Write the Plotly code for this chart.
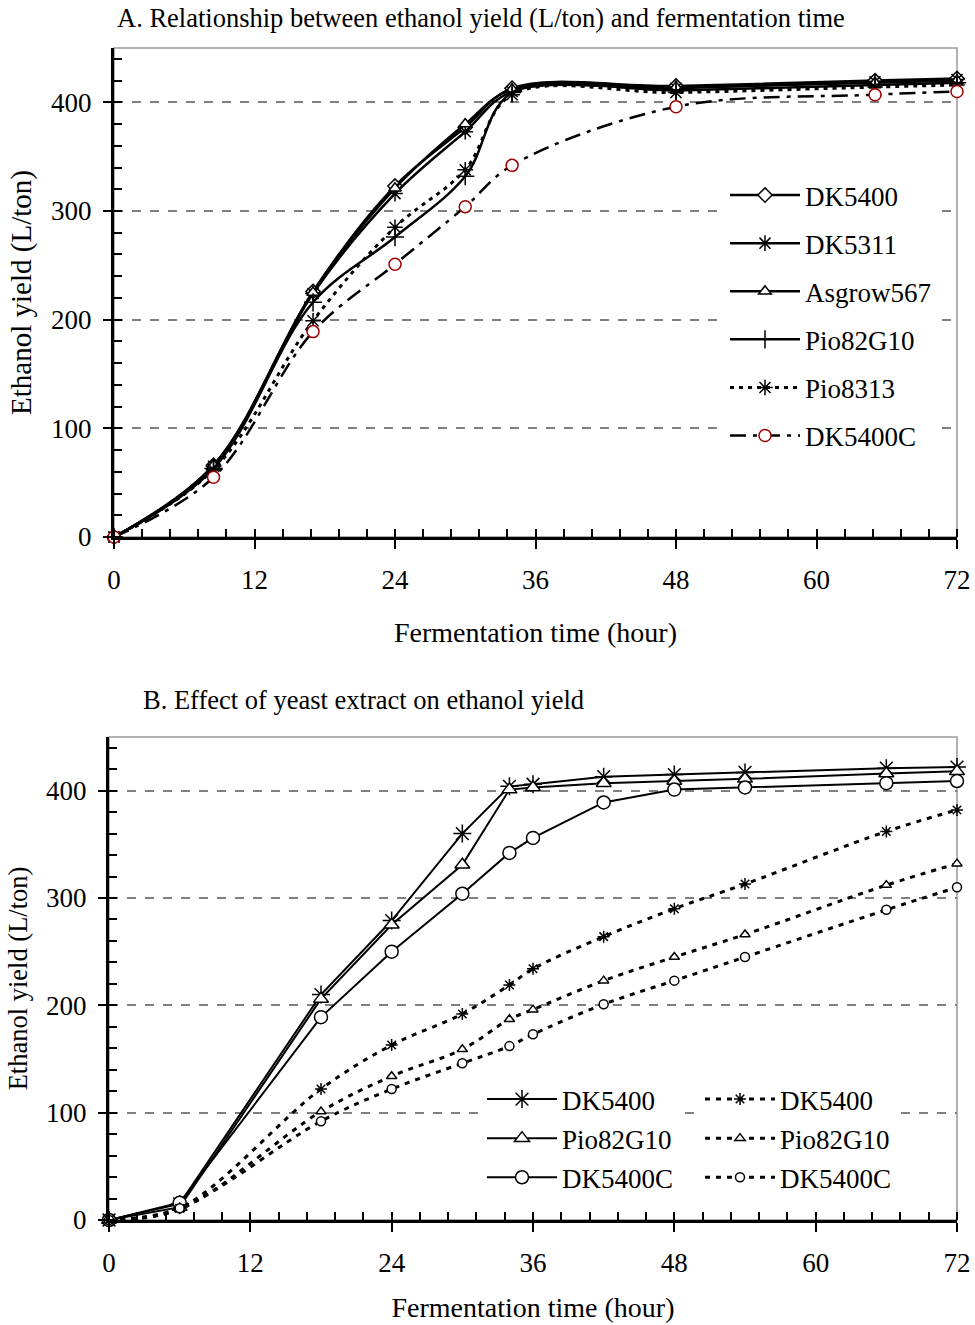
import plotly.graph_objects as go

# ---------------- data ----------------
hours_a = [0, 8.5, 17, 24, 30, 34, 48, 65, 72]
dk5400_a = [0, 66, 226, 323, 377, 413, 415, 420, 422]
dk5311_a = [0, 65, 224, 316, 373, 410, 413, 419, 421]
asgrow567_a = [0, 66, 225, 321, 380, 412, 414, 418, 420]
pio82g10_a = [0, 63, 216, 276, 332, 409, 411, 416, 418]
pio8313_a = [0, 62, 199, 285, 338, 407, 409, 414, 416]
dk5400c_a = [0, 55, 189, 251, 304, 342, 396, 407, 410]

hours_b = [0, 6, 18, 24, 30, 34, 36, 42, 48, 54, 66, 72]
dk5400_ye = [0, 15, 210, 279, 360, 404, 406, 413, 415, 417, 421, 422]
pio82g10_ye = [0, 12, 206, 275, 331, 401, 403, 407, 409, 411, 416, 418]
dk5400c_ye = [0, 16, 189, 250, 304, 342, 356, 389, 401, 403, 407, 409]
dk5400_no = [0, 11, 122, 163, 192, 219, 234, 264, 290, 313, 362, 382]
pio82g10_no = [0, 10, 101, 134, 159, 187, 196, 223, 245, 266, 312, 332]
dk5400c_no = [0, 11, 92, 122, 146, 162, 173, 201, 223, 245, 289, 310]

title_a = "A. Relationship between ethanol yield (L/ton) and fermentation time"
title_b = "B. Effect of yeast extract on ethanol yield"
x_title = "Fermentation time (hour)"
y_title = "Ethanol yield (L/ton)"

W, H = 975, 1325
FONT = "Liberation Serif, Times New Roman, serif"

fig = go.Figure()


def add(x, y, name, symbol, xa, ya, legend, group, dash="solid", shape="linear",
        mcolor="black", msize=11, lw=2.5):
    fig.add_trace(go.Scatter(
        x=x, y=y, name=name, mode="lines+markers", xaxis=xa, yaxis=ya,
        legend=legend, legendgroup=group, cliponaxis=False,
        line=dict(color="black", width=lw, dash=dash, shape=shape),
        marker=dict(symbol=symbol, size=msize, color="white",
                    line=dict(color=mcolor, width=1.5)),
    ))


# Panel A
add(hours_a, dk5400_a, "DK5400", "diamond", "x", "y", "legend", "a1", shape="spline")
add(hours_a, dk5311_a, "DK5311", "asterisk", "x", "y", "legend", "a2", shape="spline", msize=13)
add(hours_a, asgrow567_a, "Asgrow567", "triangle-up", "x", "y", "legend", "a3", shape="spline")
add(hours_a, pio82g10_a, "Pio82G10", "cross-thin", "x", "y", "legend", "a4", shape="spline", msize=13)
add(hours_a, pio8313_a, "Pio8313", "asterisk", "x", "y", "legend", "a5", shape="spline",
    dash="4px,5px", lw=3, msize=13)
add(hours_a, dk5400c_a, "DK5400C", "circle", "x", "y", "legend", "a6", shape="spline",
    dash="16px,7px,4px,7px", mcolor="#a00000", lw=2.5, msize=12)

# Panel B
add(hours_b, dk5400_ye, "DK5400", "asterisk", "x2", "y2", "legend2", "b1", msize=15, lw=2)
add(hours_b, pio82g10_ye, "Pio82G10", "triangle-up", "x2", "y2", "legend2", "b2", msize=13, lw=2)
add(hours_b, dk5400c_ye, "DK5400C", "circle", "x2", "y2", "legend2", "b3", msize=13, lw=2)
add(hours_b, dk5400_no, "DK5400", "asterisk", "x2", "y2", "legend3", "b4", msize=10,
    dash="5px,6px", shape="spline", lw=3)
add(hours_b, pio82g10_no, "Pio82G10", "triangle-up", "x2", "y2", "legend3", "b5", msize=9,
    dash="5px,6px", shape="spline", lw=3)
add(hours_b, dk5400c_no, "DK5400C", "circle", "x2", "y2", "legend3", "b6", msize=9,
    dash="5px,6px", shape="spline", lw=3)


def xaxis(domain, anchor, standoff):
    return dict(
        domain=domain, anchor=anchor, range=[0, 72], dtick=12, tick0=0,
        automargin=False,
        ticks="outside", ticklen=9, tickwidth=2, tickcolor="black",
        showline=True, linecolor="black", linewidth=3,
        showgrid=False, zeroline=False,
        tickfont=dict(family=FONT, size=27, color="black"),
        ticklabelstandoff=8,
        minor=dict(dtick=2.4, tick0=0, ticks="inside", ticklen=8, tickwidth=2,
                   tickcolor="black", showgrid=False),
        title=dict(text=x_title, font=dict(family=FONT, size=28, color="black"),
                   standoff=standoff),
    )


def yaxis(domain, anchor, tsize):
    return dict(
        domain=domain, anchor=anchor, range=[0, 450], dtick=100, tick0=0,
        automargin=False,
        ticks="outside", ticklen=8, tickwidth=2, tickcolor="black",
        showline=True, linecolor="black", linewidth=3,
        showgrid=True, gridcolor="#808080", griddash="dash", gridwidth=1.5,
        zeroline=False,
        tickfont=dict(family=FONT, size=27, color="black"),
        ticklabelstandoff=6,
        minor=dict(dtick=20, tick0=0, ticks="inside", ticklen=8, tickwidth=2,
                   tickcolor="black", showgrid=False),
        title=dict(text=y_title, font=dict(family=FONT, size=tsize, color="black"), standoff=11),
    )


legend_common = dict(bgcolor="white", borderwidth=0, xanchor="left", yanchor="top",
                     font=dict(family=FONT, size=27, color="black"), itemwidth=70,
                     traceorder="grouped", itemclick=False)

fig.update_layout(
    width=W, height=H, margin=dict(l=0, r=0, t=0, b=0, autoexpand=False),
    paper_bgcolor="white", plot_bgcolor="white",
    font=dict(family=FONT, color="black"),
    xaxis=xaxis([114 / W, 957 / W], "y", 28),
    yaxis=yaxis([1 - 537 / H, 1 - 48 / H], "x", 29),
    xaxis2=xaxis([109 / W, 957 / W], "y2", 20),
    yaxis2=yaxis([1 - 1220 / H, 1 - 737 / H], "x2", 26.5),
    legend=dict(x=725 / W, y=1 - 171 / H, tracegroupgap=10, **legend_common),
    legend2=dict(x=482 / W, y=1 - 1075 / H, tracegroupgap=1, **legend_common),
    legend3=dict(x=700 / W, y=1 - 1075 / H, tracegroupgap=1, **legend_common),
    showlegend=True,
    annotations=[
        dict(text=title_a, x=481 / W, y=1 - 18 / H, xref="paper", yref="paper",
             xanchor="center", yanchor="middle",
             showarrow=False, font=dict(family=FONT, size=26.5, color="black")),
        dict(text=title_b, x=363 / W, y=1 - 700 / H, xref="paper", yref="paper",
             xanchor="center", yanchor="middle",
             showarrow=False, font=dict(family=FONT, size=26.5, color="black")),
    ],
    shapes=[
        dict(type="rect", xref="x domain", yref="y domain", x0=0, x1=1, y0=0, y1=1,
             line=dict(color="#999999", width=1.5), layer="below"),
        dict(type="rect", xref="x2 domain", yref="y2 domain", x0=0, x1=1, y0=0, y1=1,
             line=dict(color="#999999", width=1.5), layer="below"),
    ],
)

fig.write_html("out.html", config={"displayModeBar": False},
               post_script="document.body.style.margin='0px';")
